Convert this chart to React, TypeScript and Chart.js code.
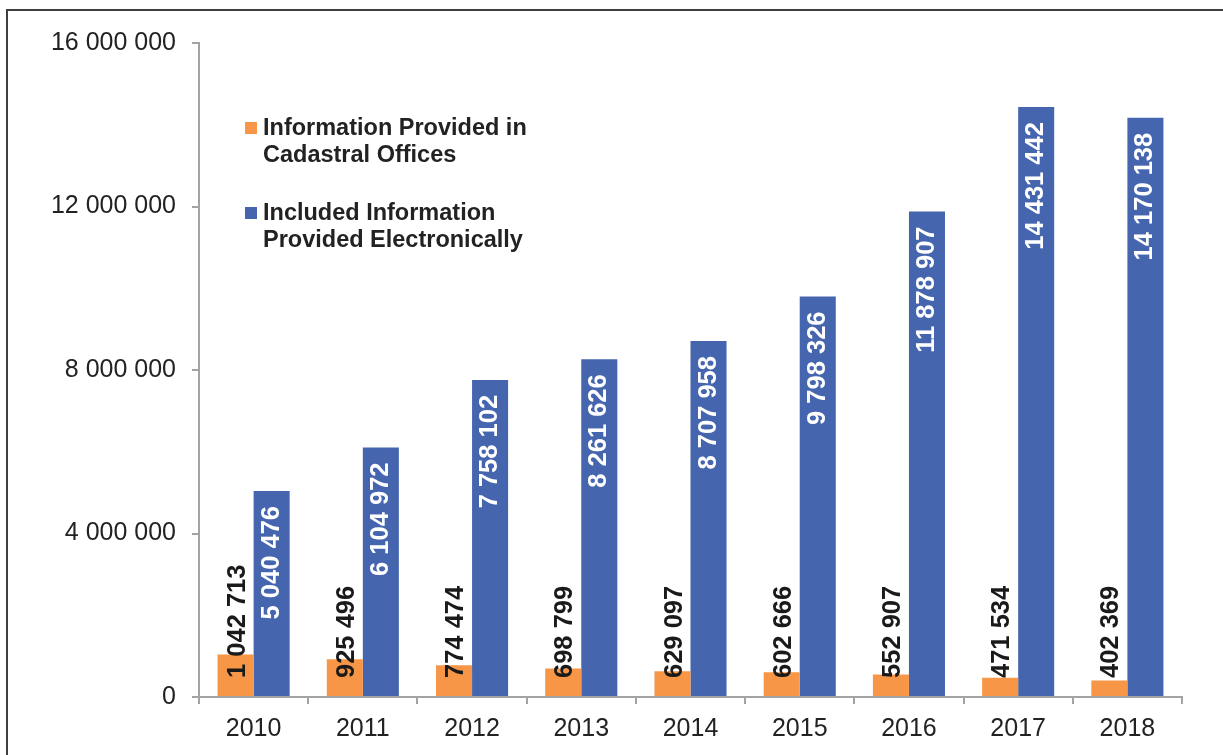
import React, { useEffect, useRef } from "react";
import { Chart, registerables } from "chart.js";

Chart.register(...registerables);

const categories = ["2010", "2011", "2012", "2013", "2014", "2015", "2016", "2017", "2018"];
const cadastralOffices = [1042713, 925496, 774474, 698799, 629097, 602666, 552907, 471534, 402369];
const electronically = [5040476, 6104972, 7758102, 8261626, 8707958, 9798326, 11878907, 14431442, 14170138];
const seriesNames = ["Information Provided in Cadastral Offices", "Included Information Provided Electronically"];
const legendLines = [
  ["Information Provided in", "Cadastral Offices"],
  ["Included Information", "Provided Electronically"],
];
const yTicks = [0, 4000000, 8000000, 12000000, 16000000];

const ORANGE = "#F79646";
const BLUE = "#4565AF";
const AXIS = "#A3A3A3";
const TEXT = "#222222";
const FONT = '"Liberation Sans", Arial, Helvetica, sans-serif';

const fmt = (v: number) => String(v).replace(/\B(?=(\d{3})+(?!\d))/g, " ");

const barLabels = {
  id: "barLabels",
  afterDatasetsDraw(chart: any) {
    const ctx = chart.ctx;
    chart.data.datasets.forEach((ds: any, di: number) => {
      const meta = chart.getDatasetMeta(di);
      meta.data.forEach((bar: any, i: number) => {
        const text = fmt(ds.data[i]);
        ctx.save();
        if (di === 0) {
          ctx.translate(bar.x + 2, bar.base - 18);
        } else {
          ctx.translate(bar.x, bar.y + 15);
        }
        ctx.rotate(-Math.PI / 2);
        ctx.font = `bold 25.5px ${FONT}`;
        ctx.fillStyle = di === 0 ? "#1a1a1a" : "#ffffff";
        ctx.textAlign = di === 0 ? "left" : "right";
        ctx.textBaseline = "middle";
        ctx.fillText(text, 0, 0);
        ctx.restore();
      });
    });
  },
};

const insideLegend = {
  id: "insideLegend",
  afterDraw(chart: any) {
    const ctx = chart.ctx;
    const x0 = 245;
    const tops = [122, 207];
    ctx.save();
    chart.data.datasets.forEach((ds: any, di: number) => {
      const top = tops[di];
      ctx.fillStyle = ds.backgroundColor;
      ctx.fillRect(x0, top, 12, 12);
      ctx.font = `bold 23.5px ${FONT}`;
      ctx.fillStyle = TEXT;
      ctx.textAlign = "left";
      ctx.textBaseline = "alphabetic";
      legendLines[di].forEach((line, li) => {
        ctx.fillText(line, x0 + 18, top + 13 + li * 27);
      });
    });
    ctx.restore();
  },
};

export default function App() {
  const ref = useRef<HTMLCanvasElement | null>(null);

  useEffect(() => {
    if (!ref.current) return;
    const chart = new Chart(ref.current, {
      type: "bar",
      data: {
        labels: categories,
        datasets: [
          { label: seriesNames[0], data: cadastralOffices, backgroundColor: ORANGE, borderWidth: 0 },
          { label: seriesNames[1], data: electronically, backgroundColor: BLUE, borderWidth: 0 },
        ],
      },
      options: {
        animation: false,
        responsive: true,
        maintainAspectRatio: false,
        devicePixelRatio: 1,
        layout: { padding: { top: 43, right: 41, bottom: 0, left: 0 } },
        plugins: {
          legend: { display: false },
          tooltip: { enabled: false },
          title: { display: false },
        },
        datasets: {
          bar: { categoryPercentage: 0.66, barPercentage: 1.0 },
        },
        scales: {
          x: {
            grid: {
              offset: true,
              drawOnChartArea: false,
              drawTicks: true,
              tickLength: 7,
              color: AXIS,
              lineWidth: 2,
            },
            border: { display: true, color: AXIS, width: 2 },
            ticks: {
              color: TEXT,
              font: { family: FONT, size: 25 },
              padding: 10,
              maxRotation: 0,
            },
            afterFit: (scale: any) => {
              scale.height = 58;
            },
          },
          y: {
            min: 0,
            max: 16000000,
            afterBuildTicks: (scale: any) => {
              scale.ticks = yTicks.map((v) => ({ value: v }));
            },
            grid: {
              drawOnChartArea: false,
              drawTicks: true,
              tickLength: 7,
              color: AXIS,
              lineWidth: 2,
            },
            border: { display: true, color: AXIS, width: 2 },
            ticks: {
              color: TEXT,
              font: { family: FONT, size: 25 },
              padding: 16,
              callback: (v: any) => fmt(Number(v)),
            },
            afterFit: (scale: any) => {
              scale.width = 199;
            },
          },
        },
      },
      plugins: [barLabels, insideLegend],
    });
    return () => chart.destroy();
  }, []);

  return (
    <div
      style={{
        position: "absolute",
        left: 0,
        top: 0,
        width: 1223,
        height: 755,
        overflow: "hidden",
        background: "#ffffff",
      }}
    >
      <div style={{ position: "absolute", left: 0, top: 0, width: 1223, height: 755 }}>
        <canvas ref={ref} />
      </div>
      <div
        style={{
          position: "absolute",
          left: 6,
          top: 9,
          width: 1300,
          height: 800,
          borderLeft: "2px solid #3f3f3f",
          borderTop: "2px solid #3f3f3f",
          pointerEvents: "none",
        }}
      />
    </div>
  );
}
